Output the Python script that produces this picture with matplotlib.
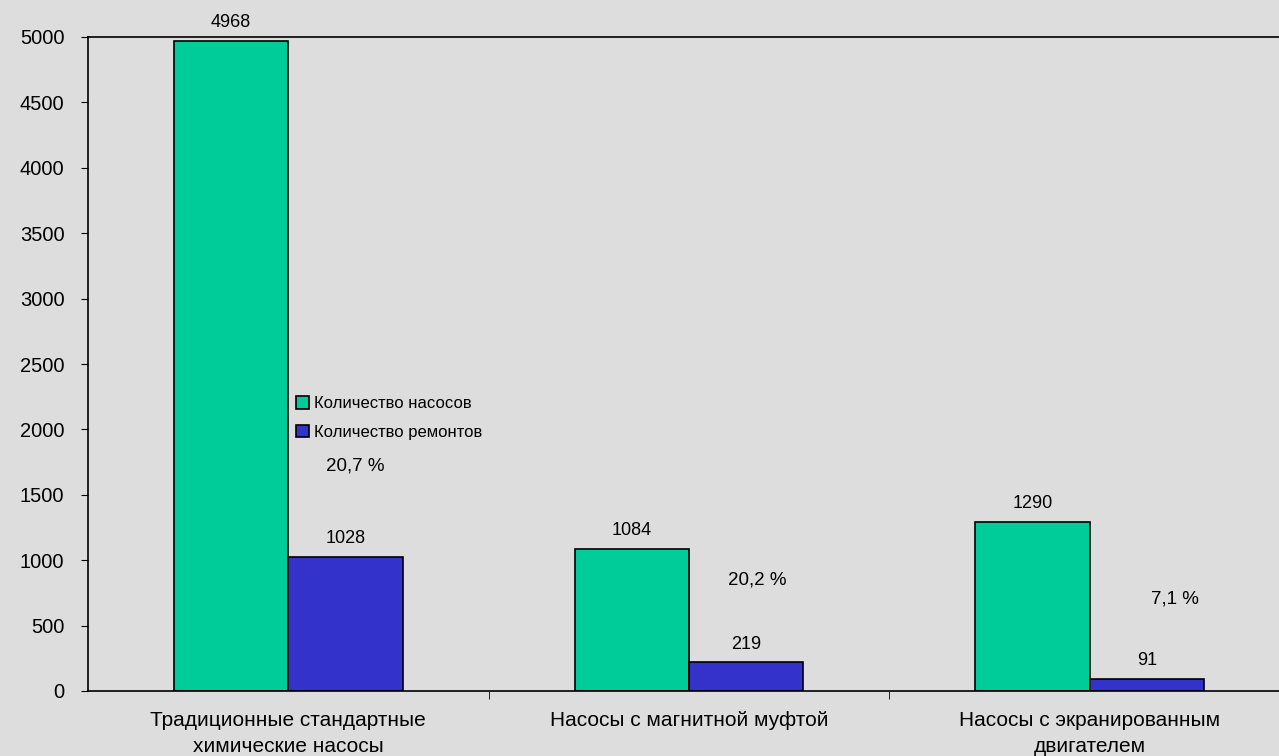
import numpy as np
import matplotlib
matplotlib.use('Agg')
import matplotlib.pyplot as plt

plt.rcParams['font.family'] = ['Liberation Sans', 'DejaVu Sans']

categories = ['Традиционные стандартные\nхимические насосы',
              'Насосы с магнитной муфтой',
              'Насосы с экранированным\nдвигателем']
pumps = [4968, 1084, 1290]
repairs = [1028, 219, 91]
shares = ['20,7 %', '20,2 %', '7,1 %']
series_names = ['Количество насосов', 'Количество ремонтов']

bg = '#dddddd'
fig = plt.figure(figsize=(12.79, 7.56), dpi=100, facecolor=bg)
ax = fig.add_axes([88/1279, 1-691/756, 1202/1279, 654/756], facecolor=bg)

x = np.arange(len(categories))
w = 1/3.5
b1 = ax.bar(x - w/2, pumps, w, color='#00cc99', edgecolor='black', linewidth=1.2, label=series_names[0])
b2 = ax.bar(x + w/2, repairs, w, color='#3333cc', edgecolor='black', linewidth=1.2, label=series_names[1])

for r, v in zip(b1, pumps):
    ax.text(r.get_x() + r.get_width()/2, v + 75, str(v), ha='center', va='bottom', fontsize=13)
for r, v in zip(b2, repairs):
    ax.text(r.get_x() + r.get_width()/2, v + 75, str(v), ha='center', va='bottom', fontsize=13)

# подписи долей ремонтов
pct_y = [1720, 850, 700]
pct_dx = [0.023, 0.027, 0.07]
for i, s in enumerate(shares):
    ax.text(x[i] + w/2 + pct_dx[i], pct_y[i], s, ha='center', va='center', fontsize=13.5)

ax.set_xlim(-0.5, 2.5)
ax.set_ylim(0, 5000)
ax.set_yticks(np.arange(0, 5001, 500))
ax.set_xticks([])
ax.set_xticks([0.5, 1.5], minor=True)
ax.tick_params(axis='x', which='minor', length=6, direction='out')
ax.tick_params(axis='y', length=5, direction='out', labelsize=14.5, pad=12)
for i, c in enumerate(categories):
    ax.text(x[i], -150, c, ha='center', va='top', fontsize=15, linespacing=1.5)

for s in ['top', 'left', 'bottom']:
    ax.spines[s].set_linewidth(1.2)
ax.spines['right'].set_visible(False)

ax.legend(loc='upper left', bbox_to_anchor=(0.173, 0.451), frameon=False, fontsize=12,
          handlelength=0.8, handleheight=0.8, handletextpad=0.3, labelspacing=0.8,
          borderpad=0, borderaxespad=0)

fig.savefig('out.png', dpi=100, facecolor=bg)
